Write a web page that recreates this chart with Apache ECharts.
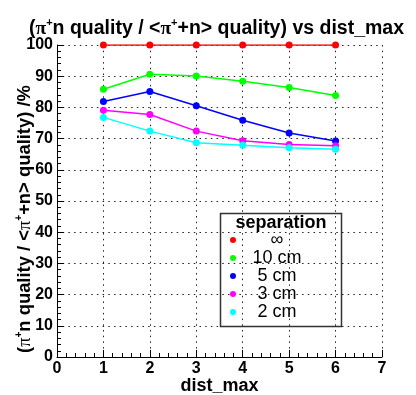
<!DOCTYPE html>
<html>
<head>
<meta charset="utf-8">
<script src="https://cdn.jsdelivr.net/npm/echarts@6/dist/echarts.min.js"></script>
<style>
  html, body { margin: 0; padding: 0; background: #fff; }
  #chart { width: 416px; height: 395px; }
</style>
</head>
<body>
<div id="chart"></div>
<script>
// dist_max values on the x axis
const distMax = [1, 2, 3, 4, 5, 6];

// quality ratio (%) for each neutron separation
const sepInf = [100, 100, 100, 100, 100, 100];
const sep10cm = [85.8, 90.6, 90.1, 88.4, 86.4, 83.8];
const sep5cm = [81.9, 85.1, 80.5, 75.9, 71.8, 69.2];
const sep3cm = [79.1, 77.7, 72.4, 69.3, 68.1, 67.7];
const sep2cm = [76.8, 72.4, 68.7, 67.9, 67.1, 66.6];

const seriesNames = ['\u221e', '10 cm', '5 cm', '3 cm', '2 cm'];
const seriesValues = [sepInf, sep10cm, sep5cm, sep3cm, sep2cm];
const seriesColors = ['#ff0000', '#00ff00', '#0000ff', '#ff00ff', '#00ffff'];

const FONT = 'Liberation Sans, Arial, Helvetica, sans-serif';

const chart = echarts.init(document.getElementById('chart'), null, { renderer: 'canvas' });

const gridDots = { show: true, showMinLine: true, showMaxLine: true,
  lineStyle: { color: '#222', width: 1, type: [1.5, 4.2], opacity: 1 } };

const series = seriesNames.map((name, i) => ({
  name: name,
  type: 'line',
  data: distMax.map((x, k) => [x, seriesValues[i][k]]),
  symbol: 'circle',
  symbolSize: 7,
  color: seriesColors[i],
  lineStyle: { width: 1.5, color: seriesColors[i] },
  itemStyle: { color: seriesColors[i] },
  animation: false,
  z: 3
}));

const richTitle = {
  b: { fontFamily: FONT, fontWeight: 'bold', fontSize: 19.5, color: '#000', lineHeight: 24 },
  g: { fontFamily: 'Liberation Serif, DejaVu Serif, serif', fontSize: 19.5, color: '#000', lineHeight: 24 },
  s: { fontFamily: FONT, fontWeight: 'bold', fontSize: 11, color: '#000', verticalAlign: 'top', lineHeight: 24 }
};

const richAxisName = {
  b: { fontFamily: FONT, fontWeight: 'bold', fontSize: 18.4, color: '#000', lineHeight: 22 },
  g: { fontFamily: 'Liberation Serif, DejaVu Serif, serif', fontSize: 18.4, color: '#000', lineHeight: 22 },
  s: { fontFamily: FONT, fontWeight: 'bold', fontSize: 10, color: '#000', verticalAlign: 'top', lineHeight: 22 }
};

chart.setOption({
  animation: false,
  backgroundColor: '#ffffff',
  title: {
    text: '{b|(}{g|\u03c0}{s|+}{b|n quality / <}{g|\u03c0}{s|+}{b|+n> quality) vs dist_max}',
    left: 24,
    top: 12,
    textStyle: { rich: richTitle }
  },
  grid: { left: 57, right: 34, top: 45, bottom: 38, containLabel: false, outerBoundsMode: 'none' },
  xAxis: {
    type: 'value',
    min: 0,
    max: 7,
    interval: 1,
    name: 'dist_max',
    nameLocation: 'middle',
    nameGap: 20,
    nameMoveOverlap: false,
    nameTextStyle: { fontFamily: FONT, fontWeight: 'bold', fontSize: 18, color: '#000' },
    axisLine: { show: true, onZero: false, lineStyle: { color: '#000', width: 1 } },
    axisTick: { show: true, inside: true, length: 7, lineStyle: { color: '#000' } },
    minorTick: { show: true, splitNumber: 5, length: 4, lineStyle: { color: '#000' } },
    axisLabel: { fontFamily: FONT, fontWeight: 'bold', fontSize: 16, color: '#000', margin: 4 },
    splitLine: gridDots
  },
  yAxis: {
    type: 'value',
    min: 0,
    max: 100,
    interval: 10,
    name: '{b|(}{g|\u03c0}{s|+}{b|n quality / <}{g|\u03c0}{s|+}{b|+n> quality) /%}',
    nameLocation: 'middle',
    nameRotate: 90,
    nameGap: 21,
    nameMoveOverlap: false,
    nameTextStyle: { rich: richAxisName, padding: [0, 36, 0, 0] },
    axisLine: { show: true, onZero: false, lineStyle: { color: '#000', width: 1 } },
    axisTick: { show: true, inside: true, length: 7, lineStyle: { color: '#000' } },
    minorTick: { show: true, splitNumber: 5, length: 4, lineStyle: { color: '#000' } },
    axisLabel: { fontFamily: FONT, fontWeight: 'bold', fontSize: 16, color: '#000', margin: 4 },
    splitLine: gridDots
  },
  legend: {
    orient: 'vertical',
    left: 230,
    top: 231,
    padding: 0,
    itemGap: 0,
    itemWidth: 6,
    itemHeight: 6,
    icon: 'circle',
    data: seriesNames,
    formatter: name => '{t|' + name + '}',
    textStyle: {
      rich: {
        t: { fontFamily: FONT, fontSize: 18, color: '#000', width: 72, align: 'center', lineHeight: 19 }
      }
    }
  },
  graphic: [
    {
      type: 'rect',
      shape: { x: 220.5, y: 213.5, width: 121, height: 113 },
      style: { fill: null, stroke: '#333', lineWidth: 1.5 },
      z: 10
    },
    {
      type: 'text',
      x: 281,
      y: 223,
      style: {
        text: 'separation',
        fontFamily: FONT,
        fontWeight: 'bold',
        fontSize: 18,
        fill: '#000',
        align: 'center',
        verticalAlign: 'middle'
      },
      z: 10
    }
  ],
  series: series
});
</script>
</body>
</html>
